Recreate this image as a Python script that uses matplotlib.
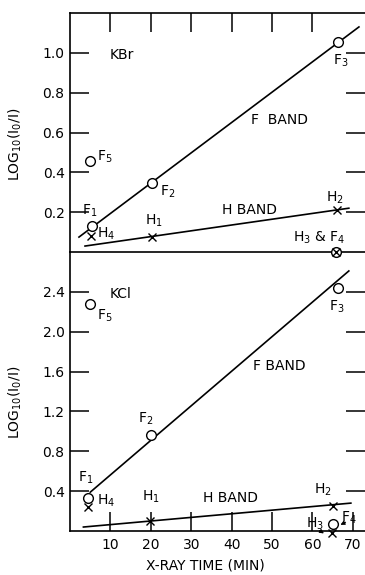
import matplotlib
matplotlib.use('Agg')
import matplotlib.pyplot as plt

# KBr (top panel)
kbr_f_t = [5.4, 20.3, 66.4, 5.0, 65.8]
kbr_f_v = [0.13, 0.345, 1.055, 0.455, 0.0]
kbr_h_t = [5.1, 20.4, 66.0, 65.8]
kbr_h_v = [0.08, 0.075, 0.21, 0.0]
kbr_fline_t = [2.2, 71.5]
kbr_fline_v = [0.075, 1.13]
kbr_hline_t = [3.7, 69.0]
kbr_hline_v = [0.03, 0.22]

# KCl (bottom panel)
kcl_f_t = [4.5, 20.1, 66.2, 5.0, 65.0]
kcl_f_v = [0.33, 0.96, 2.44, 2.28, 0.07]
kcl_h_t = [4.5, 19.9, 65.0, 64.8]
kcl_h_v = [0.24, 0.10, 0.25, -0.02]
kcl_fline_t = [5.0, 69.0]
kcl_fline_v = [0.39, 2.61]
kcl_hline_t = [3.3, 69.5]
kcl_hline_v = [0.04, 0.28]

xticks = [10, 20, 30, 40, 50, 60, 70]
kbr_yticks = [0.2, 0.4, 0.6, 0.8, 1.0]
kcl_yticks = [0.4, 0.8, 1.2, 1.6, 2.0, 2.4]

plt.rcParams['font.family'] = 'DejaVu Sans'
plt.rcParams['mathtext.fontset'] = 'dejavusans'

fig = plt.figure(figsize=(3.65, 5.75), dpi=100)
ax2 = fig.add_axes([0.192, 0.0765, 0.808, 0.4852])
ax1 = fig.add_axes([0.192, 0.5617, 0.808, 0.4157])
ax1.set_zorder(3)
ax1.patch.set_alpha(0)

lw = 1.2
for ax in (ax1, ax2):
    ax.set_xlim(0, 73)
    ax.spines['right'].set_visible(False)
    for s in ax.spines.values():
        s.set_linewidth(1.2)
    ax.tick_params(axis='y', which='both', direction='in', length=14, width=1.1,
                   labelsize=10, pad=4, right=True)
    ax.set_ylabel('LOG$_{10}$(I$_0$/I)', fontsize=10)

# top panel
ax1.set_ylim(0, 1.2)
ax1.set_yticks(kbr_yticks)
ax1.set_yticklabels([f'{v:.1f}' for v in kbr_yticks])
ax1.set_xticks(xticks[:-1])
ax1.tick_params(axis='x', direction='in', length=14, width=1.1, top=True,
                bottom=False, labelbottom=False)
ax1.yaxis.set_label_coords(-0.155, 0.45)

ax1.plot(kbr_fline_t, kbr_fline_v, color='black', lw=lw)
ax1.plot(kbr_hline_t, kbr_hline_v, color='black', lw=lw)
ax1.plot(kbr_f_t, kbr_f_v, 'o', mfc='white', mec='black', ms=7, mew=1.0,
         clip_on=False, zorder=4)
ax1.plot(kbr_h_t, kbr_h_v, 'x', color='black', ms=6, mew=1.0, clip_on=False, zorder=5)

fs = 10
ax1.text(9.9, 0.99, 'KBr', fontsize=fs, va='center')
ax1.text(44.7, 0.665, 'F  BAND', fontsize=fs, va='center')
ax1.text(37.7, 0.21, 'H BAND', fontsize=fs, va='center')
ax1.text(3.0, 0.205, 'F$_1$', fontsize=fs, va='center')
ax1.text(22.3, 0.30, 'F$_2$', fontsize=fs, va='center')
ax1.text(65.0, 0.96, 'F$_3$', fontsize=fs, va='center')
ax1.text(6.7, 0.48, 'F$_5$', fontsize=fs, va='center')
ax1.text(6.7, 0.09, 'H$_4$', fontsize=fs, va='center')
ax1.text(18.6, 0.155, 'H$_1$', fontsize=fs, va='center')
ax1.text(63.3, 0.27, 'H$_2$', fontsize=fs, va='center')
ax1.text(55.3, 0.07, 'H$_3$ & F$_4$', fontsize=fs, va='center')

# bottom panel
ax2.set_ylim(0, 2.8)
ax2.set_yticks(kcl_yticks)
ax2.set_yticklabels([f'{v:.1f}' for v in kcl_yticks])
ax2.spines['top'].set_visible(False)
ax2.set_xticks(xticks)
ax2.tick_params(axis='x', direction='in', length=14, width=1.1, labelsize=10, pad=5)
ax2.set_xlabel('X-RAY TIME (MIN)', fontsize=10)
ax2.xaxis.set_label_coords(0.46, -0.1)
ax2.yaxis.set_label_coords(-0.155, 0.46)

ax2.plot(kcl_fline_t, kcl_fline_v, color='black', lw=lw)
ax2.plot(kcl_hline_t, kcl_hline_v, color='black', lw=lw)
ax2.plot(kcl_f_t, kcl_f_v, 'o', mfc='white', mec='black', ms=7, mew=1.0, clip_on=False)
ax2.plot(kcl_h_t, kcl_h_v, 'x', color='black', ms=6, mew=1.0, clip_on=False)

ax2.text(9.9, 2.38, 'KCl', fontsize=fs, va='center')
ax2.text(6.7, 2.16, 'F$_5$', fontsize=fs, va='center')
ax2.text(64.0, 2.25, 'F$_3$', fontsize=fs, va='center')
ax2.text(45.2, 1.66, 'F BAND', fontsize=fs, va='center')
ax2.text(16.9, 1.13, 'F$_2$', fontsize=fs, va='center')
ax2.text(2.0, 0.53, 'F$_1$', fontsize=fs, va='center')
ax2.text(6.7, 0.30, 'H$_4$', fontsize=fs, va='center')
ax2.text(17.9, 0.34, 'H$_1$', fontsize=fs, va='center')
ax2.text(33.0, 0.33, 'H BAND', fontsize=fs, va='center')
ax2.text(60.3, 0.41, 'H$_2$', fontsize=fs, va='center')
ax2.text(67.0, 0.13, 'F$_4$', fontsize=fs, va='center')
ax2.text(58.3, 0.07, 'H$_3$', fontsize=fs, va='center')
ax2.annotate('', xy=(66.3, 0.05), xytext=(68.8, 0.10),
             arrowprops=dict(arrowstyle='-|>', color='black', lw=0.8, mutation_scale=6),
             annotation_clip=False)
ax2.annotate('', xy=(63.4, -0.04), xytext=(61.2, 0.02),
             arrowprops=dict(arrowstyle='-|>', color='black', lw=0.8, mutation_scale=6),
             annotation_clip=False)

fig.savefig('out.png', dpi=100)
